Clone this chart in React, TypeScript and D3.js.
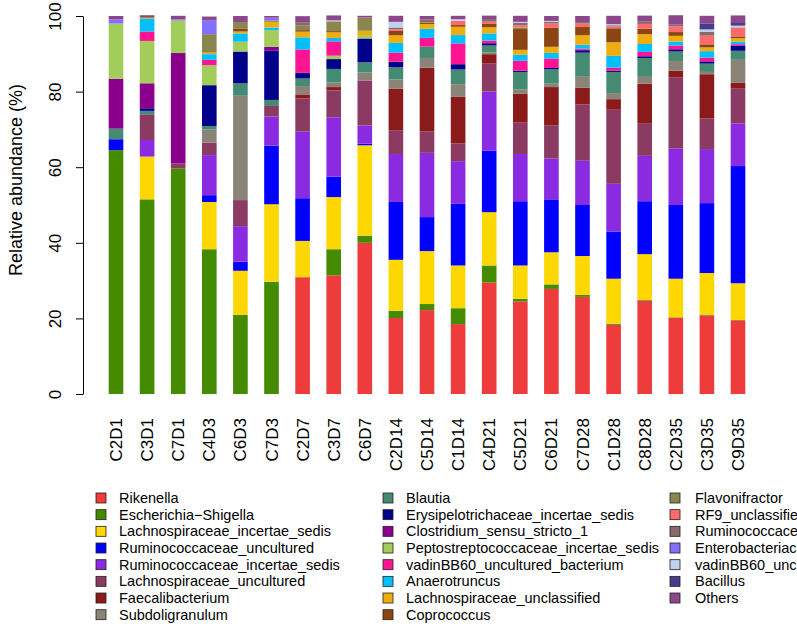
import { useEffect, useRef } from 'react';
import * as d3 from 'd3';

const samples = ['C2D1', 'C3D1', 'C7D1', 'C4D3', 'C6D3', 'C7D3', 'C2D7', 'C3D7', 'C6D7', 'C2D14', 'C5D14',
  'C1D14', 'C4D21', 'C5D21', 'C6D21', 'C7D28', 'C1D28', 'C8D28', 'C2D35', 'C3D35', 'C9D35'];

const taxa = ['Rikenella', 'Escherichia\u2212Shigella', 'Lachnospiraceae_incertae_sedis', 'Ruminococcaceae_uncultured',
  'Ruminococcaceae_incertae_sedis', 'Lachnospiraceae_uncultured', 'Faecalibacterium', 'Subdoligranulum',
  'Blautia', 'Erysipelotrichaceae_incertae_sedis', 'Clostridium_sensu_stricto_1', 'Peptostreptococcaceae_incertae_sedis',
  'vadinBB60_uncultured_bacterium', 'Anaerotruncus', 'Lachnospiraceae_unclassified', 'Coprococcus',
  'Flavonifractor', 'RF9_unclassified', 'Ruminococcaceae_unclassified', 'Enterobacteriaceae_unclassified',
  'vadinBB60_unclassified', 'Bacillus', 'Others'];

const taxaColors = ['#EE3B3B', '#458B00', '#FFD700', '#0000FF', '#8A2BE2', '#8B3A62', '#8B1A1A', '#8B8378',
  '#458B74', '#00008B', '#8B008B', '#A2CD5A', '#FF1493', '#00BFFF', '#EEAD0E', '#8B4513',
  '#8B864E', '#FF6A6A', '#8B6969', '#8470FF', '#BCD2EE', '#483D8B', '#8B4789'];

// relative abundance (%) per taxon, one value per sample
const rikenella = [0, 0, 0, 0, 0, 0, 30.9, 31.4, 40, 20.1, 22.2, 18.5, 29.5, 24.5, 27.8, 25.7, 18.3, 24.7, 20.2, 20.8, 19.5];
const escherichia = [64.5, 51.5, 59.7, 38.3, 20.9, 29.7, 0, 6.9, 1.9, 1.9, 1.6, 4.2, 4.5, 0.7, 1.2, 0.5, 0.3, 0.2, 0.1, 0.2, 0.1];
const lachnoIncertae = [0, 11.3, 0, 12.5, 11.7, 20.5, 9.6, 13.8, 23.9, 13.5, 14, 11.3, 14.1, 8.8, 8.5, 10.3, 11.9, 12.1, 10.2, 11, 9.7];
const ruminoUncultured = [2.9, 0, 0, 1.8, 2.4, 15.5, 11.3, 5.4, 0.45, 15.3, 9, 16.3, 16.3, 17, 14, 13.5, 12.5, 14, 19.5, 18.5, 31];
const ruminoIncertae = [0, 4.4, 0, 10.6, 9.4, 7.7, 17.6, 15.7, 4.8, 12.7, 17, 11.3, 15.6, 12.5, 10.8, 11.7, 12.6, 12, 15, 14.3, 11.3];
const lachnoUncultured = [0, 6.8, 1.3, 3.3, 6.9, 2.8, 8.8, 7.1, 11.9, 6.3, 5.7, 4.7, 7.5, 8.4, 8.8, 14.9, 19.6, 8.5, 18.8, 8.1, 9.3];
const faecalibacterium = [0, 0, 0, 0, 0, 0, 1.06, 0.9, 0, 11, 16.8, 12.3, 2.4, 7.5, 10.1, 4.4, 2.8, 10.6, 1.7, 11.7, 1.5];
const subdoligranulum = [0, 0, 0, 3.5, 27.6, 0, 2.2, 1.2, 2.1, 2.4, 2.6, 3.35, 0.45, 1.2, 0.9, 3.1, 1.6, 1.8, 2.6, 0.6, 6.0];
const blautia = [2.8, 0.9, 0, 0.9, 3.3, 1.6, 2.0, 3.6, 2.7, 3.2, 3.0, 3.9, 1.85, 4.6, 3.8, 6.2, 5.6, 5.0, 2.5, 2.2, 2.4];
const erysipelotrichaceae = [0, 0.7, 0, 10.8, 8.4, 13.0, 1.5, 2.6, 6.3, 1.5, 0, 1.4, 0.6, 0.35, 0.35, 0.45, 0.35, 0.45, 0.6, 0.6, 1.4];
const clostridium = [13.2, 6.6, 29.2, 0, 0, 1.05, 0, 0, 0, 0, 0, 0, 0, 0, 0, 0.4, 0, 0, 0, 0, 0];
const peptostreptococcaceae = [14.6, 11.2, 8.6, 5.3, 2.6, 4.4, 0, 0.9, 0.9, 0, 0, 0, 0, 0, 0, 0, 0, 0, 0, 0, 0];
const vadinUncultured = [0, 2.5, 0, 1.4, 0, 0, 6.2, 3.8, 0, 2.4, 2.3, 5.5, 0.7, 2.6, 2.5, 0.2, 0.8, 1.15, 1.0, 1.0, 0.35];
const anaerotruncus = [0, 3.3, 0, 1.5, 2.2, 0.7, 3.2, 0.9, 0, 2.6, 2.4, 2.2, 1.9, 1.6, 1.5, 1.05, 3.1, 2.1, 1.05, 1.7, 0.7];
const lachnoUnclassified = [0, 0.2, 0, 0.4, 0.5, 1.5, 1.5, 1.5, 1.15, 2.0, 1.3, 2.2, 1.6, 1.3, 1.6, 2.5, 3.6, 2.6, 1.5, 1.0, 0.9];
const coprococcus = [0, 0, 0, 0, 0.7, 0, 0.4, 0.3, 0, 1.15, 0.3, 0.45, 0.9, 5.5, 5.0, 2.2, 3.7, 1.4, 1.0, 0.8, 0.45];
const flavonifractor = [0, 0.3, 0, 4.9, 1.8, 0.4, 1.3, 2.6, 3.5, 0, 0.2, 0, 0, 0.4, 0, 0, 0, 0, 0, 0, 0];
const rf9 = [0, 0, 0, 0, 0, 0, 0, 0, 0, 0.4, 0, 1.15, 0.6, 0.6, 1.15, 0.9, 0.5, 1.3, 1.5, 2.3, 2.4];
const ruminoUnclassified = [0, 0, 0, 0, 0, 0, 0.8, 0, 0, 0.5, 0.7, 0, 0.7, 0.6, 0.5, 0.4, 0.3, 0.6, 0.45, 1.05, 0];
const enterobacteriaceae = [1.1, 0, 0.3, 3.7, 0, 0.7, 0, 0, 0, 0, 0, 0, 0, 0, 0, 0, 0, 0, 0, 0, 0];
const vadinUnclassified = [0, 0, 0, 0, 0, 0, 0, 0.25, 0, 1.5, 0, 0.4, 0, 0.3, 0.2, 0, 0.3, 0, 0, 0.6, 0.45];
const bacillus = [0, 0, 0, 0, 0, 0, 0, 0, 0, 0, 0, 0, 0, 0, 0, 0, 0, 0, 0, 1.6, 0.7];
const others = [0.9, 0.5, 0.95, 0.95, 1.6, 0.45, 1.6, 1.3, 0.45, 1.6, 0.9, 0.9, 0.9, 1.6, 1.3, 1.6, 2.2, 1.6, 2.5, 2.0, 2.0];

const yTicks = [0, 20, 40, 60, 80, 100];

const series = [rikenella, escherichia, lachnoIncertae, ruminoUncultured, ruminoIncertae, lachnoUncultured,
  faecalibacterium, subdoligranulum, blautia, erysipelotrichaceae, clostridium, peptostreptococcaceae,
  vadinUncultured, anaerotruncus, lachnoUnclassified, coprococcus, flavonifractor, rf9, ruminoUnclassified,
  enterobacteriaceae, vadinUnclassified, bacillus, others];

const W = 797;
const H = 626;
const FONT = '"Liberation Sans", Arial, Helvetica, sans-serif';
const AXIS_FS = '17px';
const LEGEND_FS = '14.5px';

export default function App() {
  const svgRef = useRef<SVGSVGElement>(null);

  useEffect(() => {
    if (!svgRef.current) return;
    const svg = d3.select(svgRef.current);
    svg.selectAll('*').remove();

    // rows for d3.stack
    const rows = samples.map((s, i) => {
      const row: Record<string, any> = { sample: s };
      taxa.forEach((t, k) => (row[t] = series[k][i]));
      return row;
    });
    const stacked = d3.stack<any>().keys(taxa)(rows);

    const x = d3.scaleBand().domain(samples).range([100.45, 753.55]).paddingInner(0.53).paddingOuter(0.265);
    const y = d3.scaleLinear().domain([0, 100]).range([394, 16]);
    const color = d3.scaleOrdinal<string, string>().domain(taxa).range(taxaColors);

    // bars
    svg.append('g')
      .selectAll('g')
      .data(stacked)
      .enter()
      .append('g')
      .attr('fill', (d) => color(d.key))
      .selectAll('rect')
      .data((d) => d)
      .enter()
      .append('rect')
      .attr('x', (d) => x(d.data.sample) || 0)
      .attr('width', x.bandwidth())
      .attr('y', (d) => y(d[1]))
      .attr('height', (d) => Math.max(0, y(d[0]) - y(d[1])));

    // y axis
    const yAxis = svg.append('g')
      .attr('transform', 'translate(83,0)')
      .call(d3.axisLeft(y).tickValues(yTicks).tickSize(7).tickSizeOuter(0).tickFormat(d3.format('d')));
    yAxis.select('.domain').attr('stroke', '#000');
    yAxis.selectAll('.tick line').attr('stroke', '#000');
    yAxis.selectAll('.tick text')
      .attr('x', 0)
      .attr('dy', 0)
      .attr('transform', 'translate(-22,0) rotate(-90)')
      .attr('text-anchor', 'middle')
      .style('font-family', FONT)
      .style('font-size', AXIS_FS)
      .style('fill', '#000');

    svg.append('text')
      .attr('transform', 'translate(22,180) rotate(-90)')
      .attr('text-anchor', 'middle')
      .style('font-family', FONT)
      .style('font-size', '18px')
      .text('Relative abundance (%)');

    // x labels, perpendicular to axis
    svg.append('g')
      .selectAll('text')
      .data(samples)
      .enter()
      .append('text')
      .attr('transform', (d) => `translate(${(x(d) || 0) + x.bandwidth() / 2 + 6},418) rotate(-90)`)
      .attr('text-anchor', 'end')
      .style('font-family', FONT)
      .style('font-size', AXIS_FS)
      .text((d) => d);

    // legend in three columns
    const colX = [96, 383, 670];
    const perCol = 8;
    const leg = svg.append('g')
      .selectAll('g')
      .data(taxa)
      .enter()
      .append('g')
      .attr('transform', (d, i) => `translate(${colX[Math.floor(i / perCol)]},${498 + (i % perCol) * 16.67})`);
    leg.append('rect')
      .attr('x', 0)
      .attr('y', -5)
      .attr('width', 10)
      .attr('height', 10)
      .attr('fill', (d) => color(d))
      .attr('stroke', '#222')
      .attr('stroke-width', 0.8);
    leg.append('text')
      .attr('x', (d, i) => (i >= 16 ? 25 : 23))
      .attr('y', 5)
      .style('font-family', FONT)
      .style('font-size', LEGEND_FS)
      .text((d) => d);
  }, []);

  return (
    <svg
      ref={svgRef}
      width={W}
      height={H}
      style={{ position: 'absolute', left: 0, top: 0, background: '#fff', overflow: 'hidden' }}
    />
  );
}
